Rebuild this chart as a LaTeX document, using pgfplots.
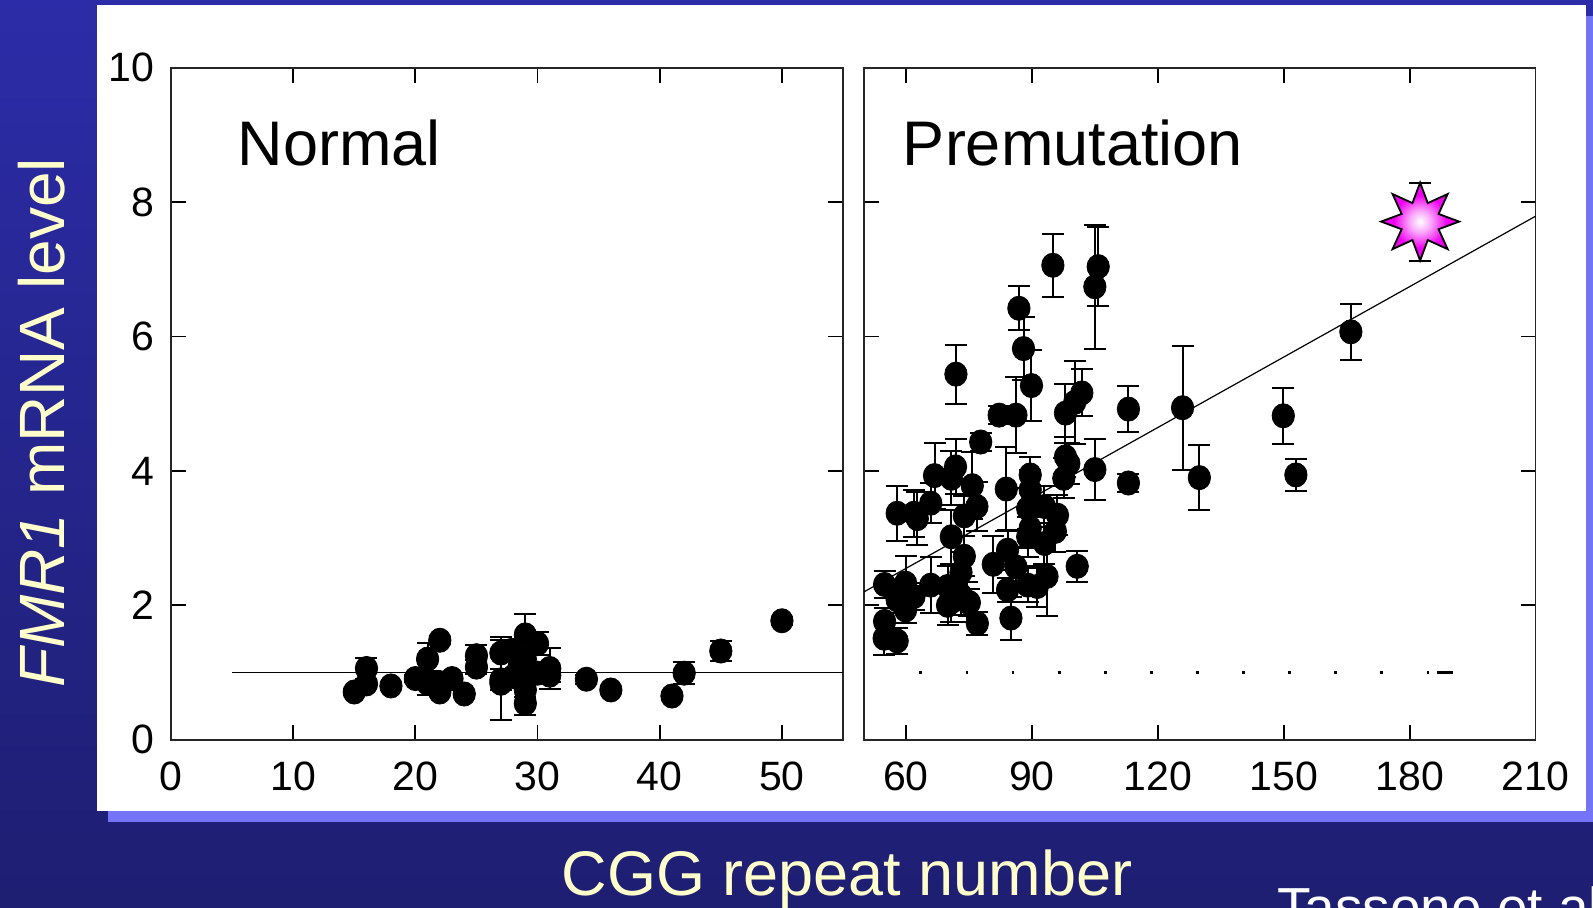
\documentclass[border=0pt]{standalone}
\usepackage{pgfplots}
\pgfplotsset{compat=1.18}
\usepackage{pgfplotstable}
\usepackage{fontspec}
\setmainfont{Liberation Sans}
\usetikzlibrary{shapes.geometric}
\definecolor{bgtop}{HTML}{2C2CA8}
\definecolor{bgmid}{HTML}{3535CA}
\definecolor{bgbot}{HTML}{1E1E72}
\definecolor{shadowblue}{HTML}{7474F6}
\definecolor{cream}{HTML}{FFFFCC}
\definecolor{starmag}{HTML}{F000F0}
\pgfdeclareradialshading{starshade}{\pgfpoint{0bp}{0bp}}{color(0bp)=(white); color(7bp)=(white!65!starmag); color(17bp)=(starmag); color(50bp)=(starmag)}

\pgfplotstableread{
x y e
15 0.71 0.05
16 1.06 0.15
16 0.83 0.05
18 0.80 0.05
20 0.91 0.05
21 1.20 0.24
21 0.84 0.18
22 1.48 0.05
22 0.71 0.05
22 0.85 0.05
23 0.91 0.05
24 0.68 0.05
25 1.25 0.16
25 1.08 0.10
27 1.29 0.24
27 0.89 0.60
27 0.84 0.10
27.9 1.33 0.10
28 0.94 0.10
28.5 1.10 0.10
29 1.56 0.31
29 1.20 0.10
29 0.95 0.10
29 0.74 0.10
29 0.54 0.17
30 1.43 0.17
30 0.99 0.10
31 1.06 0.30
31 0.96 0.10
34 0.90 0.07
36 0.74 0.04
41 0.65 0.04
42 0.99 0.16
45 1.32 0.15
50 1.77 0.06
}\normaltab

\pgfplotstableread{
x y e
54.9 2.31 0.20
54.9 1.76 0.20
54.8 1.51 0.25
57.9 1.47 0.19
57.9 3.37 0.41
57.9 2.08 0.20
59.9 2.33 0.40
59.9 1.93 0.19
61.9 3.37 0.35
62.7 3.29 0.39
61.9 2.13 0.20
65.9 3.52 0.30
65.9 2.30 0.42
66.8 3.93 0.49
69.9 2.28 0.30
69.9 2.00 0.29
70.8 3.89 0.40
70.8 3.02 0.40
71.8 4.06 0.41
71.9 5.44 0.44
70.8 2.05 0.30
73.9 3.33 0.30
73.9 2.73 0.30
73.1 2.49 0.30
73.1 2.15 0.30
74.6 2.05 0.30
75.1 2.04 0.20
75.8 3.78 0.50
76.9 3.47 0.37
77.0 1.73 0.17
77.8 4.43 0.14
80.8 2.61 0.42
82.2 4.83 0.13
83.9 3.73 0.63
84.2 2.82 0.30
84.2 2.23 0.18
85.0 1.81 0.32
86.2 4.83 0.57
86.2 2.57 0.30
86.9 6.42 0.33
88.0 5.82 0.47
89.9 5.27 0.53
89.6 3.94 0.27
89.6 3.72 0.30
89.0 3.44 0.30
89.6 3.15 0.30
89.0 3.02 0.30
89.0 2.30 0.25
91.3 2.28 0.30
93.0 3.47 0.30
93.0 2.92 0.30
93.6 2.43 0.59
95.0 7.06 0.47
96.1 3.34 0.30
95.6 3.10 0.30
98.0 4.86 0.44
98.0 4.21 0.30
98.8 4.11 0.30
97.6 3.89 0.30
100.2 5.02 0.62
100.8 2.58 0.23
101.9 5.16 0.35
105.0 6.74 0.92
105.8 7.04 0.59
105.0 4.02 0.45
113.0 4.92 0.34
113.0 3.82 0.13
125.9 4.94 0.92
129.9 3.90 0.48
149.9 4.82 0.42
152.9 3.94 0.24
166.0 6.07 0.42
}\premtab

\pgfplotstableread{
x y e
182.5 7.71 0.58
}\startab

\pgfplotsset{
  panel/.style={
    anchor=south west, scale only axis, width=336pt, height=336pt,
    ymin=0, ymax=10, ytick={0,2,...,10},
    tick align=inside, major tick length=7.5pt,
    axis line style={line width=0.9pt, black!85},
    tick style={line width=0.9pt, black},
    ticklabel style={font=\fontsize{20.5}{24}\selectfont},
    /pgf/number format/assume math mode=true,
    xticklabel style={yshift=-7.7pt},
    yticklabel style={xshift=-4.7pt},
  },
  dots/.style={only marks, mark=*, mark size=5.6pt, mark options={yscale=1.08}, black,
    error bars/.cd, y dir=both, y explicit,
    error bar style={line width=1pt, black},
    error mark options={rotate=90, mark size=5.5pt, line width=1pt, black}},
}

\begin{document}
\begin{tikzpicture}
\path[use as bounding box] (0,0) rectangle (796.5pt,453.5pt);
\shade[top color=bgtop, middle color=bgmid, bottom color=bgbot] (0,0) rectangle (796.5pt,453.5pt);
\fill[shadowblue] (54pt,42.5pt) rectangle (800pt,445.5pt);
\fill[white] (48.5pt,48pt) rectangle (793pt,451pt);

\begin{axis}[panel, at={(85.5pt,83.65pt)}, xmin=0, xmax=55, xtick={0,10,...,50}]
\addplot[black, line width=0.9pt] coordinates {(5,1) (55,1)};
\addplot[dots] table[x=x, y=y, y error=e] {\normaltab};
\node[anchor=base west, font=\fontsize{31.5}{36}\selectfont] at (axis cs:4.9,8.55) {Normal};
\end{axis}

\begin{axis}[panel, at={(432pt,83.65pt)}, width=335.75pt, xmin=50, xmax=210, xtick={60,90,...,210}, yticklabels={,,,,,,}]
\addplot[black, line width=0.6pt] coordinates {(50,2.2) (210,7.79)};
\addplot[black, line width=1.4pt, dash pattern=on 1.4pt off 21.65pt] coordinates {(63.2,1) (185,1)};
\addplot[black, line width=1.4pt] coordinates {(186.5,1) (190.4,1)};
\addplot[dots] table[x=x, y=y, y error=e] {\premtab};
\addplot[only marks, mark=none,
  error bars/.cd, y dir=both, y explicit,
  error bar style={line width=1pt, black},
  error mark options={rotate=90, mark size=5.5pt, line width=1pt, black}]
  table[x=x, y=y, y error=e] {\startab};
\addplot[only marks, mark=none, nodes near coords={},
  nodes near coords align={anchor=center},
  every node near coord/.append style={star, star points=8, star point ratio=1.95,
    minimum size=39pt, inner sep=0pt, draw=black, line width=0.9pt,
    shading=starshade, anchor=center}]
  table[x=x, y=y] {\startab};
\node[anchor=base west, font=\fontsize{31.5}{36}\selectfont] at (axis cs:57.6,8.55) {Premutation};
\end{axis}

\node[rotate=90, anchor=base, text=cream, font=\fontsize{32}{38}\selectfont] at (32pt,242pt) {\textit{FMR1} mRNA level};
\node[anchor=base, text=cream, font=\fontsize{31.5}{38}\selectfont] at (423.5pt,6pt) {CGG repeat number};
\node[anchor=base west, text=white, font=\fontsize{27.5}{32}\selectfont] at (635pt,-9.5pt) {Tassone et al};
\end{tikzpicture}
\end{document}
